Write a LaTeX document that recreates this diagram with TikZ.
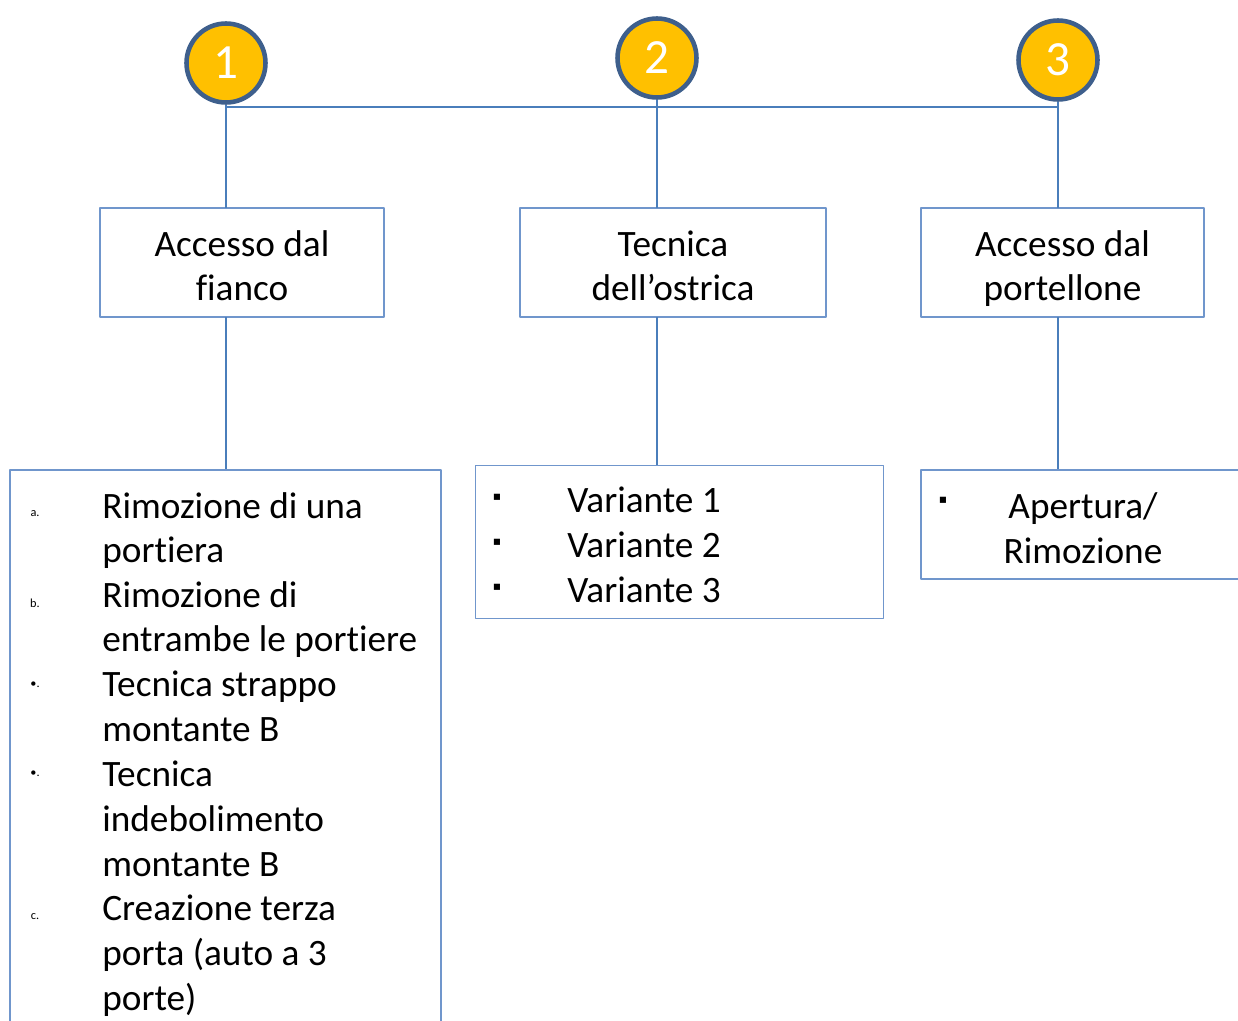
\documentclass[tikz,border=0pt]{standalone}
\usepackage{fontspec}
\setmainfont{Carlito}[Ligatures=NoCommon]
\newfontfamily\symfont{DejaVu Sans}
\usetikzlibrary{positioning}
\definecolor{orgline}{HTML}{4A7EBB}
\definecolor{boxline}{HTML}{7096CC}
\definecolor{ringblue}{HTML}{3E5F8C}
\definecolor{numfill}{HTML}{FFC000}
\tikzset{
  num/.style={circle,draw=ringblue,line width=2.6pt,fill=numfill,minimum size=1.58cm,inner sep=0pt,
    text=white,font=\fontsize{28}{30}\selectfont},
  head/.style={draw=boxline,line width=0.7pt,minimum width=5.68cm,minimum height=2.18cm},
  htxt/.style={inner sep=0pt,align=center,font=\fontsize{21.2}{25.2}\selectfont,execute at end node=\strut},
  itm/.style={anchor=north west,inner sep=0pt,align=left,font=\fontsize{21.2}{25.4}\selectfont},
  mrk/.style={inner sep=0pt,font=\fontsize{7}{8}\selectfont},
  sq/.style={inner sep=0pt,font=\symfont\fontsize{7}{8}\selectfont}
}

\begin{document}
\begin{tikzpicture}[x=0.02cm,y=-0.02cm,line join=round]
\useasboundingbox (0,0) rectangle (1238,1021);
% --- numbers
\node[num] (n1) at (226,63) {\raisebox{-1.5pt}{1}};
\node[num] (n2) at (657,58) {\raisebox{-1.5pt}{2}};
\node[num] (n3) at (1058,60) {\raisebox{-1.5pt}{3}};
\coordinate (h1) at (226,107);
\coordinate (h3) at (1058,107);
\draw[orgline,line width=1.3pt] (h1) -- (h3);
% --- headings
\node[head] (a) at (242,262.5) {};
\node[head,minimum width=6.12cm] (b) at (673,262.5) {};
\node[head,minimum width=5.66cm] (c) at (1062.5,262.5) {};
\node[htxt] (at) at (242,272.5) {Accesso dal\\fianco};
\node[htxt] (bt) at (673,272.5) {Tecnica\\dell’ostrica};
\node[htxt] (ct) at (1062.5,272.5) {Accesso dal\\portellone};
\coordinate (a1) at (226,208); \coordinate (a2) at (226,317); \coordinate (a3) at (226,470);
\coordinate (b1) at (657,208); \coordinate (b2) at (657,317); \coordinate (b3) at (657,465);
\coordinate (c1) at (1058,208); \coordinate (c2) at (1058,317); \coordinate (c3) at (1058,470);
\draw[orgline,line width=0.8pt] (n1.south) -- (a1) (n2.south) -- (b1) (n3.south) -- (c1);
\draw[orgline,line width=0.8pt] (a2) -- (a3) (b2) -- (b3) (c2) -- (c3);
% --- lists
\draw[boxline,line width=0.8pt] (10,1030) -- (10,470) -- (441,470) -- (441,1030);
\node[boxline,draw,line width=0.8pt,minimum width=8.16cm,minimum height=3.06cm,anchor=north west] (v) at (475,465) {};
\draw[boxline,line width=0.8pt] (1245,470) -- (921,470) -- (921,579) -- (1245,579);
\node[mrk] (ma) at (35,514) {a.};
\node[itm] (ta) at (102,492) {Rimozione di una\\portiera};
\node[mrk] (mb) at (35,603) {b.};
\node[itm] (tb) at (102,581) {Rimozione di\\entrambe le portiere};
\node[mrk] (mc) at (35,685) {•.};
\node[itm] (tc) at (102,671) {Tecnica strappo\\montante B};
\node[mrk] (md) at (35,774) {•.};
\node[itm] (td) at (102,761) {Tecnica\\indebolimento\\montante B};
\node[mrk] (me) at (35,917) {c.};
\node[itm] (te) at (102,895) {Creazione terza\\porta (auto a 3\\porte)};
\foreach \y/\t in {500/1,545/2,590/3}{
  \node[sq] (s\t) at (497,\y-3) {▪};
  \node[itm,anchor=west] (var\t) at (567,\y) {Variante \t};
}
\node[sq] (sr) at (943,500) {▪};
\node[itm,anchor=center,align=center] (ap) at (1083,528) {Apertura/\\Rimozione};
\end{tikzpicture}
\end{document}
